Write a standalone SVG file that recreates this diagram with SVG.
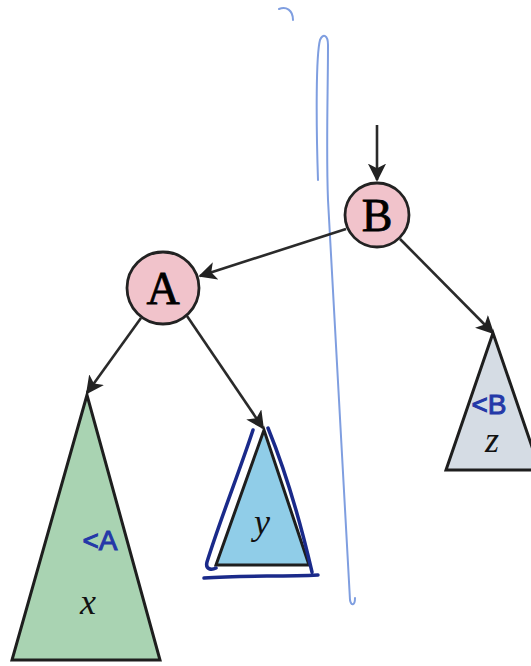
<svg xmlns="http://www.w3.org/2000/svg" width="531" height="666" viewBox="0 0 531 666">
<defs>
<marker id="ah" viewBox="0 0 10 10" refX="9" refY="5" markerWidth="7" markerHeight="7" orient="auto" markerUnits="strokeWidth">
<path d="M0,0 L10,5 L0,10 L2.5,5 z" fill="#222"/>
</marker>
<style>
.edge{stroke:#2a2a2a;stroke-width:2.6;fill:none;marker-end:url(#ah)}
.node circle{fill:#f1c3cb;stroke:#222;stroke-width:2.8}
.node text{font-family:"Liberation Serif",serif;font-size:46px;fill:#000;text-anchor:middle;stroke:#000;stroke-width:0.8}
.tri{stroke:#1e1e1e;stroke-width:3}
.var{font-family:"Liberation Serif",serif;font-style:italic;font-size:36px;fill:#111;text-anchor:middle}
.hand{font-family:"Liberation Sans",sans-serif;font-size:28px;fill:#2438a8;text-anchor:middle;stroke:#2438a8;stroke-width:1}
</style>
</defs>
<rect width="531" height="666" fill="#fff"/>
<g id="annotation-line" fill="none" stroke="#7f9ee0" stroke-width="2" stroke-linecap="round">
<path d="M279,9 C286,6 293,10 293,20"/>
<path d="M318,180 C316,120 316,55 320,40 C323,33 328,35 328,45 C328,90 326,150 328,200 C334,320 344,480 350,600 C351,606 355,606 355,598"/>
</g>
<g id="connectors">
<line class="edge" x1="377" y1="125" x2="377" y2="180"/>
<line class="edge" x1="346" y1="229" x2="200" y2="276"/>
<line class="edge" x1="400" y1="239" x2="493" y2="333"/>
<line class="edge" x1="141" y1="318" x2="87" y2="393"/>
<line class="edge" x1="187" y1="316" x2="263" y2="428"/>
</g>
<g id="node-B" class="node">
<circle cx="377" cy="215" r="32"/>
<text x="377" y="231">B</text>
</g>
<g id="node-A" class="node">
<circle cx="163" cy="288" r="36"/>
<text x="163" y="304">A</text>
</g>
<g id="subtree-x">
<polygon class="tri" points="87,395 12,660 160,660" fill="#a9d3b2"/>
<text class="hand" x="100" y="550">&lt;A</text>
<text class="var" x="88" y="614">x</text>
</g>
<g id="subtree-y">
<polygon class="tri" points="264,430 216,565 309,565" fill="#90cde8"/>
<text class="var" x="262" y="534">y</text>
<path d="M253,430 C240,470 220,520 207,562 C205,570 212,570 216,568 M268,428 C285,470 300,520 312,572 M204,578 C240,575 280,577 318,575" fill="none" stroke="#1a2a8a" stroke-width="3.5" stroke-linecap="round"/>
</g>
<g id="subtree-z">
<polygon class="tri" points="493,333 446,470 540,470" fill="#d5dce4"/>
<text class="hand" x="489" y="414">&lt;B</text>
<text class="var" x="492" y="452">z</text>
</g>
</svg>
